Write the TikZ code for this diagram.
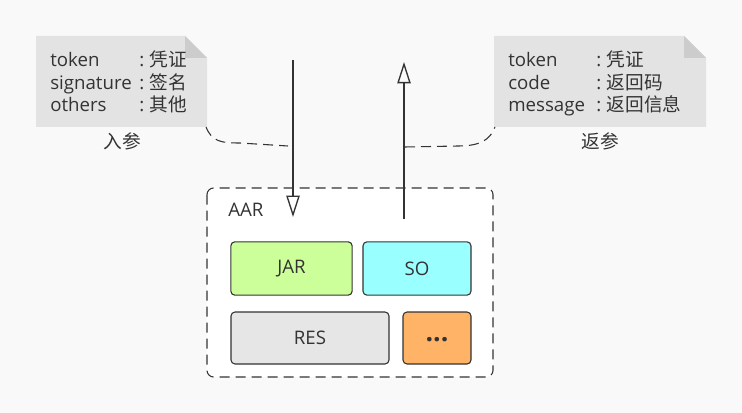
\documentclass[tikz,border=0pt]{standalone}
\usepackage{fontspec}
\setmainfont{Open Sans}
\newfontfamily\cjk{Noto Sans CJK SC}
\usetikzlibrary{arrows.meta}
\definecolor{bg}{HTML}{F9F9F9}
\definecolor{notefill}{HTML}{E3E3E3}
\definecolor{notefold}{HTML}{CCCCCC}
\definecolor{edge}{HTML}{333333}
\definecolor{jarc}{HTML}{CCFF99}
\definecolor{soc}{HTML}{99FFFF}
\definecolor{resc}{HTML}{E6E6E6}
\definecolor{dotc}{HTML}{FFB366}
\tikzset{
  txt/.style={font=\fontsize{14}{16}\selectfont, text=edge, inner sep=0pt, anchor=base west},
  lbl/.style={font=\fontsize{14}{16}\selectfont, text=edge, inner sep=0pt},
  part/.style={draw=edge, line width=0.8pt, rounded corners=3pt, font=\fontsize{14}{16}\selectfont, text=edge},
  flow/.style={draw=edge, line width=1pt, -{Triangle[open, length=16pt, width=10pt]}},
  link/.style={draw=edge, line width=0.8pt, dash pattern=on 7.5pt off 4.5pt},
}
\newcommand{\colsep}{:\hspace{0.3em}}
\begin{document}
\begin{tikzpicture}[x=0.75pt, y=-0.75pt]
\fill[bg] (0,0) rectangle (742,413);
\useasboundingbox (0,0) rectangle (742,413);

% left note
\fill[notefill] (36,36) -- (185,36) -- (207,58) -- (207,127) -- (36,127) -- cycle;
\fill[notefold] (185,36) -- (207,58) -- (185,58) -- cycle;
\coordinate (lnc) at (206,127);
\node[txt] (lk1) at (50,67) {token};
\node[txt] (lk2) at (50,90) {signature};
\node[txt] (lk3) at (50,112) {others};
\node[txt] (lv1) at (139,67) {\colsep{\cjk 凭证}};
\node[txt] (lv2) at (139,90) {\colsep{\cjk 签名}};
\node[txt] (lv3) at (139,112) {\colsep{\cjk 其他}};
\node[lbl] (lin) at (122,141) {\cjk 入参};

% right note
\fill[notefill] (494,36) -- (684,36) -- (706,58) -- (706,127) -- (494,127) -- cycle;
\fill[notefold] (684,36) -- (706,58) -- (684,58) -- cycle;
\coordinate (rnc) at (495,127);
\node[txt] (rk1) at (508,67) {token};
\node[txt] (rk2) at (508,90) {code};
\node[txt] (rk3) at (508,112) {message};
\node[txt] (rv1) at (596,67) {\colsep{\cjk 凭证}};
\node[txt] (rv2) at (596,90) {\colsep{\cjk 返回码}};
\node[txt] (rv3) at (596,112) {\colsep{\cjk 返回信息}};
\node[lbl] (rout) at (600,141) {\cjk 返参};

% AAR container
\draw[edge, fill=white, line width=0.8pt, dash pattern=on 7.5pt off 4.5pt, rounded corners=5pt] (207,188) rectangle (493,377);
\node[lbl, anchor=west] (aar) at (228,210) {AAR};

% parts
\node[part, fill=jarc, minimum width=91pt, minimum height=40pt] (jar) at (291.5,268.5) {JAR};
\node[part, fill=soc, minimum width=81pt, minimum height=40pt] (so) at (417,268.5) {SO};
\node[part, fill=resc, minimum width=118.5pt, minimum height=39pt] (res) at (310,338) {RES};
\node[part, fill=dotc, minimum width=51pt, minimum height=39pt, font=\fontsize{20}{20}\selectfont\bfseries] (dots) at (437,338) {\raisebox{-0.3em}{...}};

% flows
\coordinate (ins) at (293,60);
\coordinate (ine) at (293,217);
\coordinate (outs) at (404,219);
\coordinate (oute) at (404,62);
\draw[flow] (ins) -- (ine);
\draw[flow] (outs) -- (oute);

% dashed links
\coordinate (lj) at (288,146);
\coordinate (rj) at (405,147);
\draw[link] (lnc) .. controls (212,142) and (222,143) .. (240,143) -- (lj);
\draw[link] (rj) -- (458,146) .. controls (480,146) and (490,140) .. (rnc);
\end{tikzpicture}
\end{document}
